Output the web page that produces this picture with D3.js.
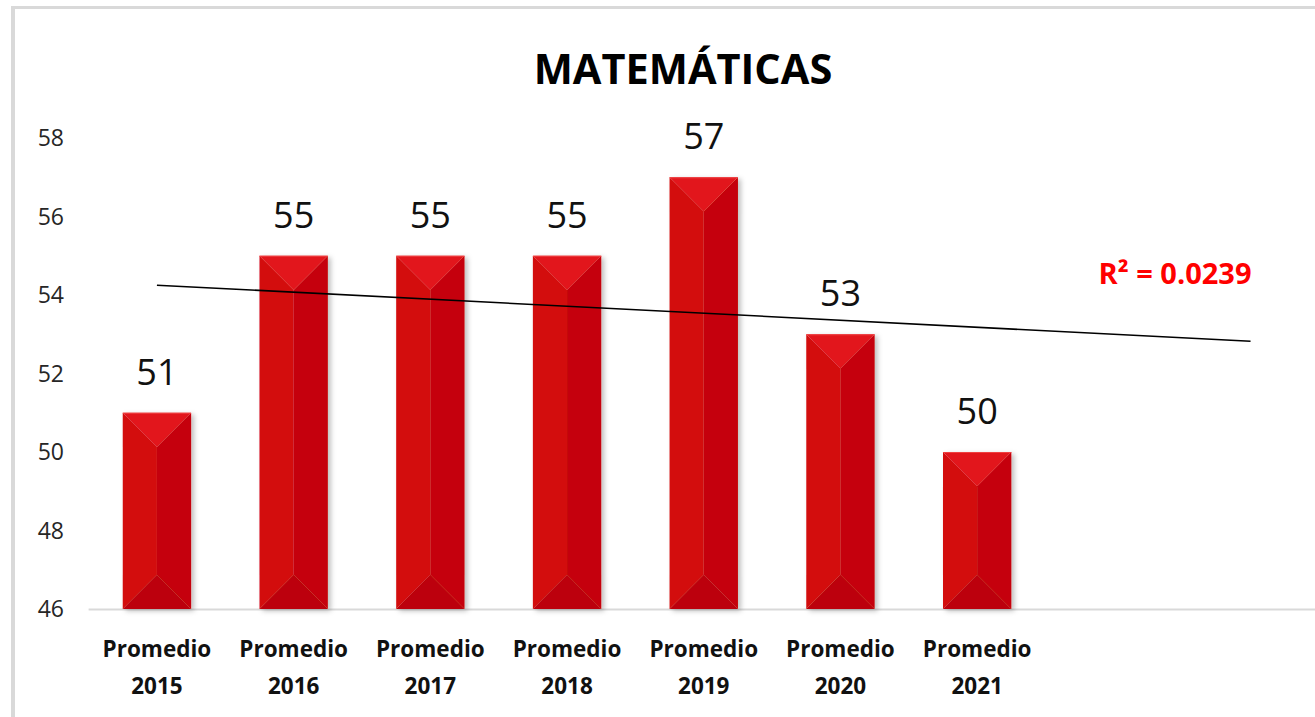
<!DOCTYPE html>
<html><head><meta charset="utf-8">
<script src="https://cdn.jsdelivr.net/npm/d3@7"></script>
<style>html,body{margin:0;padding:0;background:#fff;overflow:hidden}</style>
</head><body>
<svg id="c" width="1315" height="717"></svg>
<script>
const categories = ["Promedio 2015","Promedio 2016","Promedio 2017","Promedio 2018","Promedio 2019","Promedio 2020","Promedio 2021"];
const values = [51,55,55,55,57,53,50];
const yTicks = [46,48,50,52,54,56,58];
const title = "MATEMÁTICAS";
const forecastForward = 2;

const svg = d3.select("#c");
const F = "'Open Sans', 'Noto Sans', sans-serif";

// frame
svg.append("rect").attr("x",11).attr("y",6).attr("width",1320).attr("height",3).attr("fill","#d9d9d9");
svg.append("rect").attr("x",11).attr("y",6).attr("width",4).attr("height",720).attr("fill","#d9d9d9");

const nSlots = categories.length + forecastForward;
const x = d3.scaleBand().domain(d3.range(nSlots)).range([88.6, 88.6 + 136.7*nSlots]);
const y = d3.scaleLinear().domain([46,58]).range([609,138]);

const defs = svg.append("defs");
const f = defs.append("filter").attr("id","sh").attr("x","-20%").attr("y","-5%").attr("width","150%").attr("height","115%");
f.append("feDropShadow").attr("dx",3).attr("dy",2).attr("stdDeviation",2.5).attr("flood-color","#000").attr("flood-opacity",0.25);

// axis line
svg.append("line").attr("x1",x.range()[0]).attr("x2",1315).attr("y1",y(46)+0.5).attr("y2",y(46)+0.5)
  .attr("stroke","#d9d9d9").attr("stroke-width",2);

// y tick labels
svg.append("g").selectAll("text").data(yTicks).join("text")
  .attr("x",64).attr("y",d=>y(d)).attr("dy","0.36em").attr("text-anchor","end")
  .attr("font-family",F).attr("font-size",23).attr("fill","#262626").text(d=>d);

// bars
const bw = x.bandwidth()*0.5;
const bars = svg.append("g").selectAll("g").data(values).join("g").attr("filter","url(#sh)");
bars.each(function(d,i){
  const g = d3.select(this);
  const x0 = x(i) + (x.bandwidth()-bw)/2, x1 = x0 + bw, cx = (x0+x1)/2;
  const y0 = y(d), y1 = y(46);
  const b = bw/2;
  const poly = (pts,fill)=>g.append("polygon").attr("points",pts.map(p=>p.join(",")).join(" ")).attr("fill",fill);
  poly([[x0,y0],[cx,y0+b],[cx,y1-b],[x0,y1]],"#d30c0e");
  poly([[x1,y0],[cx,y0+b],[cx,y1-b],[x1,y1]],"#c50507");
  poly([[x0,y0],[x1,y0],[cx,y0+b]],"#e2191c");
  poly([[x0,y1],[x1,y1],[cx,y1-b]],"#bc0507");
  g.append("line").attr("x1",x0).attr("x2",x1).attr("y1",y0+0.5).attr("y2",y0+0.5).attr("stroke","#f04040").attr("stroke-width",1);
});

// data labels
svg.append("g").selectAll("text").data(values).join("text")
  .attr("x",(d,i)=>x(i)+x.bandwidth()/2).attr("y",d=>y(d)-28).attr("text-anchor","middle")
  .attr("font-family",F).attr("font-size",36).attr("fill","#111").text(d=>d);

// category labels
const cl = svg.append("g").selectAll("text").data(categories).join("text")
  .attr("text-anchor","middle").attr("font-family",F).attr("font-weight","bold").attr("font-size",22.5).attr("fill","#111");
cl.each(function(d,i){
  const t = d3.select(this), parts = d.split(" "), cx = x(i)+x.bandwidth()/2;
  t.append("tspan").attr("x",cx).attr("y",657).text(parts[0]);
  t.append("tspan").attr("x",cx).attr("y",694).text(parts[1]);
});

// linear trendline
const xs = values.map((v,i)=>i+1);
const mx = d3.mean(xs), my = d3.mean(values);
let sxy=0,sxx=0,syy=0;
xs.forEach((xi,i)=>{sxy+=(xi-mx)*(values[i]-my);sxx+=(xi-mx)**2;syy+=(values[i]-my)**2;});
const slope = sxy/sxx, icpt = my - slope*mx;
const r2 = sxy*sxy/(sxx*syy);
const tx = i=>x(i)+x.bandwidth()/2;
svg.append("line").attr("x1",tx(0)).attr("y1",y(icpt+slope*1))
  .attr("x2",tx(nSlots-1)).attr("y2",y(icpt+slope*nSlots))
  .attr("stroke","#000").attr("stroke-width",1.6);

svg.append("text").attr("x",1175).attr("y",284).attr("text-anchor","middle")
  .attr("font-family",F).attr("font-weight","bold").attr("font-size",29).attr("fill","#ff0000")
  .text("R² = " + r2.toFixed(4));

// title
svg.append("text").attr("x",683).attr("y",84).attr("text-anchor","middle")
  .attr("font-family",F).attr("font-weight","bold").attr("font-size",41.5).attr("fill","#000").text(title);
</script>
</body></html>
